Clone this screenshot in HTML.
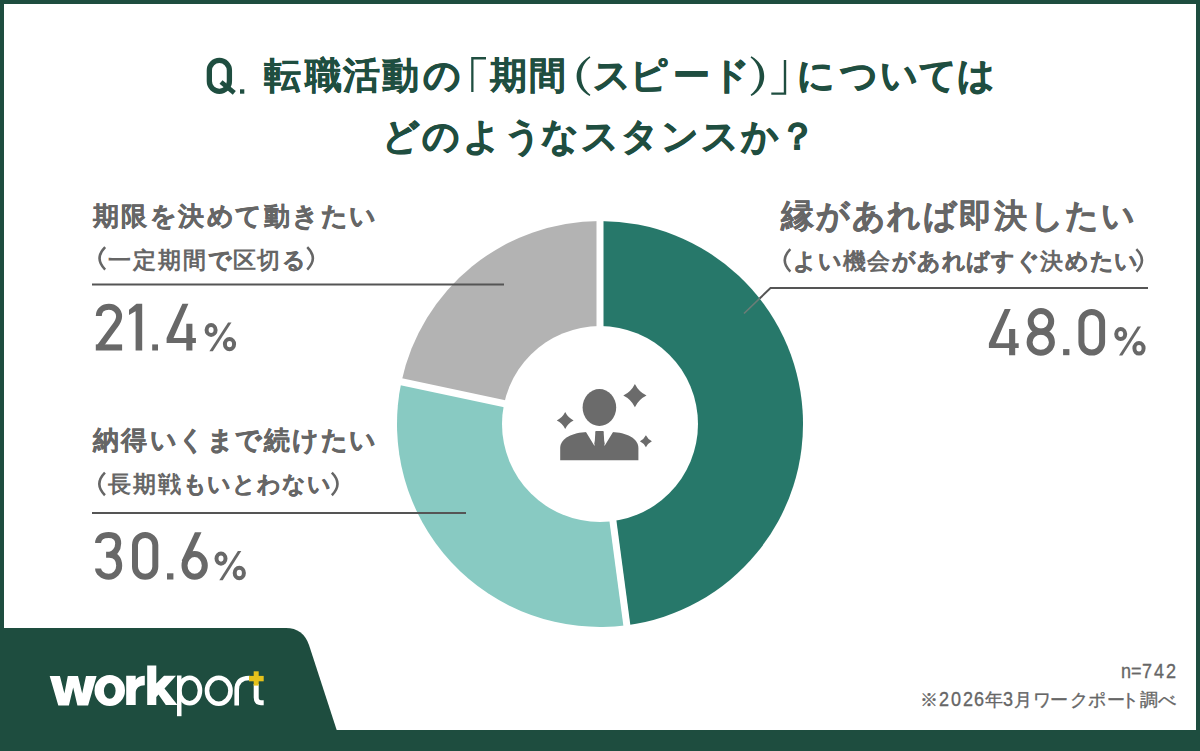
<!DOCTYPE html>
<html lang="ja">
<head>
<meta charset="utf-8">
<title>workport survey chart</title>
<style>
html,body{margin:0;padding:0;}
body{width:1200px;height:751px;position:relative;overflow:hidden;background:#1e4d3f;font-family:"Liberation Sans",sans-serif;}
.panel{position:absolute;left:4px;top:4px;width:1192px;height:726px;background:#fff;}
i{position:absolute;font-style:normal;white-space:pre;transform-origin:0 0;}
svg{position:absolute;left:0;top:0;}
</style>
</head>
<body>
<div class="panel"></div>

<svg width="1200" height="751" viewBox="0 0 1200 751">
<path fill="#1e4d3f" d="M0,628 L286,628 Q303,628 309,645 L337,731 L0,731 Z"/>
<path fill="#27786a" d="M600,424 L600.00,221.00 A203,203 0 0 1 626.85,625.22 Z"/>
<path fill="#88cac2" d="M600,424 L626.85,625.22 A203,203 0 0 1 401.44,381.79 Z"/>
<path fill="#b3b3b3" d="M600,424 L401.44,381.79 A203,203 0 0 1 600.00,221.00 Z"/>
<line x1="600" y1="424" x2="600.00" y2="216.00" stroke="#fff" stroke-width="7"/>
<line x1="600" y1="424" x2="627.51" y2="630.17" stroke="#fff" stroke-width="7"/>
<line x1="600" y1="424" x2="396.55" y2="380.75" stroke="#fff" stroke-width="7"/>
<circle cx="600" cy="424" r="98" fill="#fff"/>
<path d="M92,284.6 H504" stroke="#555555" stroke-width="2" fill="none"/>
<path d="M92,513 H466" stroke="#555555" stroke-width="2" fill="none"/>
<path d="M759.6,298.5 L770.5,288.1 H1148" stroke="#555555" stroke-width="2" fill="none"/>
<path d="M744,313.5 L759.6,298.5" stroke="#6b7d77" stroke-width="1.7" fill="none"/>
<ellipse cx="599.4" cy="407.5" rx="16.8" ry="18.4" fill="#6b6b6b"/>
<path fill="#6b6b6b" d="M560.2,460.3 V448 C560.2,438 573,432.5 587,431.9 H612 C626,432.5 638.4,438 638.4,448 V460.3 Z"/>
<path fill="#fff" d="M585.5,431.2 L595.4,431.2 L594.5,446 Z M613.5,431.2 L603.6,431.2 L604.5,446 Z"/>
<path fill="#6b6b6b" d="M595.3,431 H603.7 L602.8,434 L604.6,444 L599.5,447 L594.4,444 L596.2,434 Z"/>
<path fill="#6b6b6b" d="M634.9,384.0 Q638.728,391.77200000000005 646.5,395.6 Q638.728,399.428 634.9,407.20000000000005 Q631.072,399.428 623.3,395.6 Q631.072,391.77200000000005 634.9,384.0 Z"/>
<path fill="#6b6b6b" d="M565.2,412.1 Q567.9720000000001,417.728 573.6,420.5 Q567.9720000000001,423.272 565.2,428.9 Q562.428,423.272 556.8000000000001,420.5 Q562.428,417.728 565.2,412.1 Z"/>
<path fill="#6b6b6b" d="M645.9,435.3 Q647.88,439.32 651.9,441.3 Q647.88,443.28000000000003 645.9,447.3 Q643.92,443.28000000000003 639.9,441.3 Q643.92,439.32 645.9,435.3 Z"/>
<path fill="none" stroke="#666666" stroke-width="2.5" d="M105.15,247.05 Q93.93,258.35 105.15,269.65"/>
<path fill="none" stroke="#666666" stroke-width="2.5" d="M307.25,247.05 Q318.47,258.35 307.25,269.65"/>
<path fill="none" stroke="#666666" stroke-width="2.5" d="M104.95,472.65 Q93.73,483.95 104.95,495.25"/>
<path fill="none" stroke="#666666" stroke-width="2.5" d="M331.85,472.65 Q343.07,483.95 331.85,495.25"/>
<path fill="none" stroke="#666666" stroke-width="2.5" d="M790.35,249.05 Q779.13,260.35 790.35,271.65"/>
<path fill="none" stroke="#666666" stroke-width="2.5" d="M1136.35,249.05 Q1147.57,260.35 1136.35,271.65"/>
<rect x="209.35" y="60.35" width="20.05" height="31" rx="10" fill="none" stroke="#1f4e40" stroke-width="5.3"/>
<path d="M221,82 L234.3,92.8" stroke="#1f4e40" stroke-width="4.8" fill="none"/>
<rect x="240" y="89.3" width="4.3" height="4.4" fill="#1f4e40"/>
<path fill="#1f4e40" d="M471.2,57 H486 V59.4 H473.5 V92 H471.2 Z"/>
<path fill="#1f4e40" d="M786.2,60 V94.7 H771.3 V92.4 H783.8 V60 Z"/>
<path fill="#1f4e40" d="M589.6,56.3 C580.5,61.8 576.6,68.8 576.6,76.2 C576.6,83.6 580.5,90.6 589.6,96.1 L590.4,94.8 C583.6,89.4 581.2,83 581.2,76.2 C581.2,69.4 583.6,63 590.4,57.6 Z"/>
<path fill="#1f4e40" d="M751.4,56.3 C760.5,61.8 764.2,68.8 764.2,76.2 C764.2,83.6 760.5,90.6 751.4,96.1 L750.6,94.8 C757.4,89.4 759.6,83 759.6,76.2 C759.6,69.4 757.4,63 750.6,57.6 Z"/>
<path fill="none" stroke="#686868" stroke-width="6.0" d="M98.80,316.00 C98.80,310.30 103.30,306.80 108.95,306.80 C114.60,306.80 119.10,310.80 119.10,316.30 C119.10,320.30 117.10,323.30 114.60,326.30 L99.10,347.50"/><rect fill="#686868" x="95.80" y="344.40" width="26.30" height="6.1"/><path fill="#686868" d="M129.00,309.80 L136.50,303.80 H142.20 V350.50 H135.60 V311.30 L129.00,315.00 Z"/><rect fill="#686868" x="152.20" y="344.40" width="5.80" height="6.10"/><path fill="#686868" d="M182.40,303.80 H188.40 L173.50,338.10 H186.30 V323.80 H192.40 V338.10 H195.90 V342.90 H192.40 V350.50 H186.30 V342.90 H166.60 V338.10 Z"/><ellipse cx="211.10" cy="330.03" rx="4.50" ry="4.93" fill="none" stroke="#686868" stroke-width="4.0"/><ellipse cx="229.50" cy="344.12" rx="4.60" ry="5.17" fill="none" stroke="#686868" stroke-width="4.0"/><path fill="#686868" d="M209.40,351.30 H212.80 L231.50,322.60 H228.10 Z"/>
<path fill="none" stroke="#686868" stroke-width="6.0" d="M98.10,543.10 C98.10,537.90 102.10,534.90 108.65,534.90 C115.70,534.90 118.20,538.40 118.20,543.40 C118.20,548.84 114.20,554.84 109.20,554.84 H106.10 M109.20,554.84 C116.20,554.84 119.20,559.34 119.20,565.84 C119.20,571.80 114.70,576.80 108.65,576.80 C102.10,576.80 98.10,571.80 98.10,568.40"/><rect x="135.00" y="534.90" width="20.30" height="41.90" rx="10.15" fill="none" stroke="#686868" stroke-width="6.0"/><rect fill="#686868" x="167.00" y="573.30" width="6.40" height="6.20"/><ellipse cx="194.65" cy="565.45" rx="10.15" ry="11.35" fill="none" stroke="#686868" stroke-width="6.0"/><path fill="#686868" d="M194.90,532.30 H201.50 L187.30,562.80 L181.70,560.80 Z"/><ellipse cx="221.00" cy="558.62" rx="4.50" ry="5.03" fill="none" stroke="#686868" stroke-width="4.0"/><ellipse cx="239.30" cy="572.93" rx="4.60" ry="5.27" fill="none" stroke="#686868" stroke-width="4.0"/><path fill="#686868" d="M219.30,580.20 H222.70 L241.30,551.10 H237.90 Z"/>
<path fill="#686868" d="M1004.70,308.90 H1010.70 L995.80,343.20 H1009.10 V328.90 H1015.20 V343.20 H1018.70 V348.00 H1015.20 V355.20 H1009.10 V348.00 H988.90 V343.20 Z"/><ellipse cx="1040.95" cy="321.31" rx="10.25" ry="10.31" fill="none" stroke="#686868" stroke-width="6.0"/><ellipse cx="1040.75" cy="342.21" rx="11.15" ry="10.50" fill="none" stroke="#686868" stroke-width="6.0"/><rect fill="#686868" x="1063.10" y="349.10" width="6.30" height="6.10"/><rect x="1081.40" y="311.90" width="20.70" height="40.70" rx="10.35" fill="none" stroke="#686868" stroke-width="6.0"/><ellipse cx="1120.70" cy="334.10" rx="4.50" ry="5.00" fill="none" stroke="#686868" stroke-width="4.0"/><ellipse cx="1139.00" cy="348.35" rx="4.60" ry="5.25" fill="none" stroke="#686868" stroke-width="4.0"/><path fill="#686868" d="M1119.00,355.60 H1122.40 L1141.00,326.60 H1137.60 Z"/>
<path fill="#ffffff" d="M49.7,675.9 H59.9 L64.4,693.4 L67.8,675.9 H78 L82.2,693.4 L86,675.9 H96.6 L88.1,705.4 H77.4 L73.2,687.6 L68.9,705.4 H58.3 Z"/>
<path fill="#ffffff" fill-rule="evenodd" d="M94.5,690.45 A15.25,15.55 0 1 0 125,690.45 A15.25,15.55 0 1 0 94.5,690.45 Z M103.9,690.85 A5.85,7.95 0 1 0 115.6,690.85 A5.85,7.95 0 1 0 103.9,690.85 Z"/>
<path fill="#ffffff" d="M126.2,705 V675.8 H135.7 V680 C137.5,677 140.5,675.8 144.8,675.8 V685.2 C139,685.2 135.7,688 135.7,693 V705 Z"/>
<path fill="#ffffff" d="M147.2,665.4 H156.3 V683.5 L164,675.8 H176 L164.5,688.5 L177.5,705 H165.8 L158.5,694.5 L156.3,697 V705 H147.2 Z"/>
<rect fill="#ffffff" x="177" y="675.5" width="4.5" height="40.7"/>
<ellipse cx="189.65" cy="690.5" rx="10.35" ry="12.7" fill="none" stroke="#ffffff" stroke-width="4.6"/>
<ellipse cx="218.75" cy="690.75" rx="11.75" ry="12.95" fill="none" stroke="#ffffff" stroke-width="4.6"/>
<path fill="none" stroke="#ffffff" stroke-width="4.6" d="M236.7,705.5 V690 C236.7,682 241,678 249.5,678"/>
<path fill="none" stroke="#ffffff" stroke-width="5" d="M256.2,684 V697.5 Q256.2,702.7 261,702.7 H263.7"/>
<rect fill="#e5c21c" x="253.7" y="671.3" width="5" height="14.3"/>
<rect fill="#e5c21c" x="249" y="675.9" width="14.7" height="5.4"/>
</svg>
<i style="left:263.60px;top:57.40px;font-size:37px;line-height:37px;color:#1f4e40;font-weight:bold;-webkit-text-stroke:0.35px currentColor;">転</i>
<i style="left:304.90px;top:57.40px;font-size:37px;line-height:37px;color:#1f4e40;font-weight:bold;-webkit-text-stroke:0.35px currentColor;">職</i>
<i style="left:343.40px;top:57.40px;font-size:37px;line-height:37px;color:#1f4e40;font-weight:bold;-webkit-text-stroke:0.35px currentColor;">活</i>
<i style="left:381.90px;top:57.40px;font-size:37px;line-height:37px;color:#1f4e40;font-weight:bold;-webkit-text-stroke:0.35px currentColor;">動</i>
<i style="left:422.70px;top:57.40px;font-size:37px;line-height:37px;color:#1f4e40;font-weight:bold;-webkit-text-stroke:0.8px currentColor;">の</i>
<i style="left:489.80px;top:57.40px;font-size:37px;line-height:37px;color:#1f4e40;font-weight:bold;-webkit-text-stroke:0.35px currentColor;">期</i>
<i style="left:529.00px;top:57.40px;font-size:37px;line-height:37px;color:#1f4e40;font-weight:bold;-webkit-text-stroke:0.35px currentColor;">間</i>
<i style="left:592.80px;top:57.40px;font-size:37px;line-height:37px;color:#1f4e40;font-weight:bold;-webkit-text-stroke:0.8px currentColor;">ス</i>
<i style="left:629.50px;top:57.40px;font-size:37px;line-height:37px;color:#1f4e40;font-weight:bold;-webkit-text-stroke:0.8px currentColor;">ピ</i>
<i style="left:672.50px;top:57.40px;font-size:37px;line-height:37px;color:#1f4e40;font-weight:bold;-webkit-text-stroke:0.8px currentColor;">ー</i>
<i style="left:712.00px;top:57.40px;font-size:37px;line-height:37px;color:#1f4e40;font-weight:bold;-webkit-text-stroke:0.8px currentColor;">ド</i>
<i style="left:796.80px;top:57.40px;font-size:37px;line-height:37px;color:#1f4e40;font-weight:bold;-webkit-text-stroke:0.8px currentColor;">に</i>
<i style="left:840.10px;top:57.40px;font-size:37px;line-height:37px;color:#1f4e40;font-weight:bold;-webkit-text-stroke:0.8px currentColor;">つ</i>
<i style="left:879.70px;top:57.40px;font-size:37px;line-height:37px;color:#1f4e40;font-weight:bold;-webkit-text-stroke:0.8px currentColor;">い</i>
<i style="left:918.50px;top:57.40px;font-size:37px;line-height:37px;color:#1f4e40;font-weight:bold;-webkit-text-stroke:0.8px currentColor;">て</i>
<i style="left:957.20px;top:57.40px;font-size:37px;line-height:37px;color:#1f4e40;font-weight:bold;-webkit-text-stroke:0.8px currentColor;">は</i>
<i style="left:382.30px;top:117.70px;font-size:37px;line-height:37px;color:#1f4e40;font-weight:bold;-webkit-text-stroke:0.8px currentColor;">ど</i>
<i style="left:421.50px;top:117.70px;font-size:37px;line-height:37px;color:#1f4e40;font-weight:bold;-webkit-text-stroke:0.8px currentColor;">の</i>
<i style="left:462.50px;top:117.70px;font-size:37px;line-height:37px;color:#1f4e40;font-weight:bold;-webkit-text-stroke:0.8px currentColor;">よ</i>
<i style="left:503.70px;top:117.70px;font-size:37px;line-height:37px;color:#1f4e40;font-weight:bold;-webkit-text-stroke:0.8px currentColor;">う</i>
<i style="left:541.20px;top:117.70px;font-size:37px;line-height:37px;color:#1f4e40;font-weight:bold;-webkit-text-stroke:0.8px currentColor;">な</i>
<i style="left:581.10px;top:117.70px;font-size:37px;line-height:37px;color:#1f4e40;font-weight:bold;-webkit-text-stroke:0.8px currentColor;">ス</i>
<i style="left:620.70px;top:117.70px;font-size:37px;line-height:37px;color:#1f4e40;font-weight:bold;-webkit-text-stroke:0.8px currentColor;">タ</i>
<i style="left:661.20px;top:117.70px;font-size:37px;line-height:37px;color:#1f4e40;font-weight:bold;-webkit-text-stroke:0.8px currentColor;">ン</i>
<i style="left:701.40px;top:117.70px;font-size:37px;line-height:37px;color:#1f4e40;font-weight:bold;-webkit-text-stroke:0.8px currentColor;">ス</i>
<i style="left:740.60px;top:117.70px;font-size:37px;line-height:37px;color:#1f4e40;font-weight:bold;-webkit-text-stroke:0.8px currentColor;">か</i>
<i style="left:778.70px;top:117.70px;font-size:37px;line-height:37px;color:#1f4e40;font-weight:bold;-webkit-text-stroke:0.8px currentColor;">？</i>
<i style="left:93.00px;top:202.50px;font-size:26px;line-height:26px;color:#666666;font-weight:bold;-webkit-text-stroke:0.2px currentColor;">期</i>
<i style="left:121.45px;top:202.50px;font-size:26px;line-height:26px;color:#666666;font-weight:bold;-webkit-text-stroke:0.2px currentColor;">限</i>
<i style="left:149.90px;top:202.50px;font-size:26px;line-height:26px;color:#666666;font-weight:bold;-webkit-text-stroke:0.55px currentColor;">を</i>
<i style="left:178.35px;top:202.50px;font-size:26px;line-height:26px;color:#666666;font-weight:bold;-webkit-text-stroke:0.2px currentColor;">決</i>
<i style="left:206.80px;top:202.50px;font-size:26px;line-height:26px;color:#666666;font-weight:bold;-webkit-text-stroke:0.55px currentColor;">め</i>
<i style="left:235.25px;top:202.50px;font-size:26px;line-height:26px;color:#666666;font-weight:bold;-webkit-text-stroke:0.55px currentColor;">て</i>
<i style="left:263.70px;top:202.50px;font-size:26px;line-height:26px;color:#666666;font-weight:bold;-webkit-text-stroke:0.2px currentColor;">動</i>
<i style="left:292.15px;top:202.50px;font-size:26px;line-height:26px;color:#666666;font-weight:bold;-webkit-text-stroke:0.55px currentColor;">き</i>
<i style="left:320.60px;top:202.50px;font-size:26px;line-height:26px;color:#666666;font-weight:bold;-webkit-text-stroke:0.55px currentColor;">た</i>
<i style="left:349.05px;top:202.50px;font-size:26px;line-height:26px;color:#666666;font-weight:bold;-webkit-text-stroke:0.55px currentColor;">い</i>
<i style="left:108.00px;top:248.70px;font-size:23px;line-height:23px;color:#666666;font-weight:bold;">一</i>
<i style="left:132.90px;top:248.70px;font-size:23px;line-height:23px;color:#666666;font-weight:bold;">定</i>
<i style="left:157.80px;top:248.70px;font-size:23px;line-height:23px;color:#666666;font-weight:bold;">期</i>
<i style="left:182.70px;top:248.70px;font-size:23px;line-height:23px;color:#666666;font-weight:bold;">間</i>
<i style="left:207.60px;top:248.70px;font-size:23px;line-height:23px;color:#666666;font-weight:bold;-webkit-text-stroke:0.35px currentColor;">で</i>
<i style="left:232.50px;top:248.70px;font-size:23px;line-height:23px;color:#666666;font-weight:bold;">区</i>
<i style="left:257.40px;top:248.70px;font-size:23px;line-height:23px;color:#666666;font-weight:bold;">切</i>
<i style="left:282.30px;top:248.70px;font-size:23px;line-height:23px;color:#666666;font-weight:bold;-webkit-text-stroke:0.35px currentColor;">る</i>
<i style="left:93.00px;top:426.50px;font-size:26px;line-height:26px;color:#666666;font-weight:bold;-webkit-text-stroke:0.2px currentColor;">納</i>
<i style="left:121.45px;top:426.50px;font-size:26px;line-height:26px;color:#666666;font-weight:bold;-webkit-text-stroke:0.2px currentColor;">得</i>
<i style="left:149.90px;top:426.50px;font-size:26px;line-height:26px;color:#666666;font-weight:bold;-webkit-text-stroke:0.55px currentColor;">い</i>
<i style="left:178.35px;top:426.50px;font-size:26px;line-height:26px;color:#666666;font-weight:bold;-webkit-text-stroke:0.55px currentColor;">く</i>
<i style="left:206.80px;top:426.50px;font-size:26px;line-height:26px;color:#666666;font-weight:bold;-webkit-text-stroke:0.55px currentColor;">ま</i>
<i style="left:235.25px;top:426.50px;font-size:26px;line-height:26px;color:#666666;font-weight:bold;-webkit-text-stroke:0.55px currentColor;">で</i>
<i style="left:263.70px;top:426.50px;font-size:26px;line-height:26px;color:#666666;font-weight:bold;-webkit-text-stroke:0.2px currentColor;">続</i>
<i style="left:292.15px;top:426.50px;font-size:26px;line-height:26px;color:#666666;font-weight:bold;-webkit-text-stroke:0.55px currentColor;">け</i>
<i style="left:320.60px;top:426.50px;font-size:26px;line-height:26px;color:#666666;font-weight:bold;-webkit-text-stroke:0.55px currentColor;">た</i>
<i style="left:349.05px;top:426.50px;font-size:26px;line-height:26px;color:#666666;font-weight:bold;-webkit-text-stroke:0.55px currentColor;">い</i>
<i style="left:107.80px;top:473.30px;font-size:23px;line-height:23px;color:#666666;font-weight:bold;">長</i>
<i style="left:132.70px;top:473.30px;font-size:23px;line-height:23px;color:#666666;font-weight:bold;">期</i>
<i style="left:157.60px;top:473.30px;font-size:23px;line-height:23px;color:#666666;font-weight:bold;">戦</i>
<i style="left:182.50px;top:473.30px;font-size:23px;line-height:23px;color:#666666;font-weight:bold;-webkit-text-stroke:0.35px currentColor;">も</i>
<i style="left:207.40px;top:473.30px;font-size:23px;line-height:23px;color:#666666;font-weight:bold;-webkit-text-stroke:0.35px currentColor;">い</i>
<i style="left:232.30px;top:473.30px;font-size:23px;line-height:23px;color:#666666;font-weight:bold;-webkit-text-stroke:0.35px currentColor;">と</i>
<i style="left:257.20px;top:473.30px;font-size:23px;line-height:23px;color:#666666;font-weight:bold;-webkit-text-stroke:0.35px currentColor;">わ</i>
<i style="left:282.10px;top:473.30px;font-size:23px;line-height:23px;color:#666666;font-weight:bold;-webkit-text-stroke:0.35px currentColor;">な</i>
<i style="left:307.00px;top:473.30px;font-size:23px;line-height:23px;color:#666666;font-weight:bold;-webkit-text-stroke:0.35px currentColor;">い</i>
<i style="left:780.70px;top:199.30px;font-size:33px;line-height:33px;color:#666666;font-weight:bold;-webkit-text-stroke:0.2px currentColor;">縁</i>
<i style="left:816.27px;top:199.30px;font-size:33px;line-height:33px;color:#666666;font-weight:bold;-webkit-text-stroke:0.55px currentColor;">が</i>
<i style="left:851.84px;top:199.30px;font-size:33px;line-height:33px;color:#666666;font-weight:bold;-webkit-text-stroke:0.55px currentColor;">あ</i>
<i style="left:887.41px;top:199.30px;font-size:33px;line-height:33px;color:#666666;font-weight:bold;-webkit-text-stroke:0.55px currentColor;">れ</i>
<i style="left:922.98px;top:199.30px;font-size:33px;line-height:33px;color:#666666;font-weight:bold;-webkit-text-stroke:0.55px currentColor;">ば</i>
<i style="left:958.55px;top:199.30px;font-size:33px;line-height:33px;color:#666666;font-weight:bold;-webkit-text-stroke:0.2px currentColor;">即</i>
<i style="left:994.12px;top:199.30px;font-size:33px;line-height:33px;color:#666666;font-weight:bold;-webkit-text-stroke:0.2px currentColor;">決</i>
<i style="left:1029.69px;top:199.30px;font-size:33px;line-height:33px;color:#666666;font-weight:bold;-webkit-text-stroke:0.55px currentColor;">し</i>
<i style="left:1065.26px;top:199.30px;font-size:33px;line-height:33px;color:#666666;font-weight:bold;-webkit-text-stroke:0.55px currentColor;">た</i>
<i style="left:1100.83px;top:199.30px;font-size:33px;line-height:33px;color:#666666;font-weight:bold;-webkit-text-stroke:0.55px currentColor;">い</i>
<i style="left:793.30px;top:249.70px;font-size:23px;line-height:23px;color:#666666;font-weight:bold;-webkit-text-stroke:0.35px currentColor;">よ</i>
<i style="left:818.00px;top:249.70px;font-size:23px;line-height:23px;color:#666666;font-weight:bold;-webkit-text-stroke:0.35px currentColor;">い</i>
<i style="left:842.70px;top:249.70px;font-size:23px;line-height:23px;color:#666666;font-weight:bold;">機</i>
<i style="left:867.40px;top:249.70px;font-size:23px;line-height:23px;color:#666666;font-weight:bold;">会</i>
<i style="left:892.10px;top:249.70px;font-size:23px;line-height:23px;color:#666666;font-weight:bold;-webkit-text-stroke:0.35px currentColor;">が</i>
<i style="left:916.80px;top:249.70px;font-size:23px;line-height:23px;color:#666666;font-weight:bold;-webkit-text-stroke:0.35px currentColor;">あ</i>
<i style="left:941.50px;top:249.70px;font-size:23px;line-height:23px;color:#666666;font-weight:bold;-webkit-text-stroke:0.35px currentColor;">れ</i>
<i style="left:966.20px;top:249.70px;font-size:23px;line-height:23px;color:#666666;font-weight:bold;-webkit-text-stroke:0.35px currentColor;">ば</i>
<i style="left:990.90px;top:249.70px;font-size:23px;line-height:23px;color:#666666;font-weight:bold;-webkit-text-stroke:0.35px currentColor;">す</i>
<i style="left:1015.60px;top:249.70px;font-size:23px;line-height:23px;color:#666666;font-weight:bold;-webkit-text-stroke:0.35px currentColor;">ぐ</i>
<i style="left:1040.30px;top:249.70px;font-size:23px;line-height:23px;color:#666666;font-weight:bold;">決</i>
<i style="left:1065.00px;top:249.70px;font-size:23px;line-height:23px;color:#666666;font-weight:bold;-webkit-text-stroke:0.35px currentColor;">め</i>
<i style="left:1089.70px;top:249.70px;font-size:23px;line-height:23px;color:#666666;font-weight:bold;-webkit-text-stroke:0.35px currentColor;">た</i>
<i style="left:1114.40px;top:249.70px;font-size:23px;line-height:23px;color:#666666;font-weight:bold;-webkit-text-stroke:0.35px currentColor;">い</i>
<i style="left:920.00px;top:691.80px;font-size:17.5px;line-height:17.5px;color:#666666;-webkit-text-stroke:0.35px currentColor;">※</i>
<i style="left:984.85px;top:691.80px;font-size:17.5px;line-height:17.5px;color:#666666;-webkit-text-stroke:0.35px currentColor;">年</i>
<i style="left:1013.95px;top:691.80px;font-size:17.5px;line-height:17.5px;color:#666666;-webkit-text-stroke:0.35px currentColor;">月</i>
<i style="left:1032.70px;top:691.80px;font-size:17.5px;line-height:17.5px;color:#666666;-webkit-text-stroke:0.35px currentColor;">ワ</i>
<i style="left:1050.20px;top:691.80px;font-size:17.5px;line-height:17.5px;color:#666666;-webkit-text-stroke:0.35px currentColor;">ー</i>
<i style="left:1070.00px;top:691.80px;font-size:17.5px;line-height:17.5px;color:#666666;-webkit-text-stroke:0.35px currentColor;">ク</i>
<i style="left:1088.00px;top:691.80px;font-size:17.5px;line-height:17.5px;color:#666666;-webkit-text-stroke:0.35px currentColor;">ポ</i>
<i style="left:1106.50px;top:691.80px;font-size:17.5px;line-height:17.5px;color:#666666;-webkit-text-stroke:0.35px currentColor;">ー</i>
<i style="left:1121.00px;top:691.80px;font-size:17.5px;line-height:17.5px;color:#666666;-webkit-text-stroke:0.35px currentColor;">ト</i>
<i style="left:1139.60px;top:691.80px;font-size:17.5px;line-height:17.5px;color:#666666;-webkit-text-stroke:0.35px currentColor;">調</i>
<i style="left:1157.65px;top:691.80px;font-size:17.5px;line-height:17.5px;color:#666666;-webkit-text-stroke:0.35px currentColor;">べ</i>
<i style="left:1120.50px;top:661.30px;font-size:20px;line-height:20px;color:#666666;transform:scaleX(0.9);-webkit-text-stroke:0.35px currentColor;">n</i>
<i style="left:1131.10px;top:661.30px;font-size:20px;line-height:20px;color:#666666;transform:scaleX(0.9);-webkit-text-stroke:0.35px currentColor;">=</i>
<i style="left:1141.75px;top:661.30px;font-size:20px;line-height:20px;color:#666666;transform:scaleX(0.9);-webkit-text-stroke:0.35px currentColor;">7</i>
<i style="left:1153.80px;top:661.30px;font-size:20px;line-height:20px;color:#666666;transform:scaleX(0.9);-webkit-text-stroke:0.35px currentColor;">4</i>
<i style="left:1165.85px;top:661.30px;font-size:20px;line-height:20px;color:#666666;transform:scaleX(0.9);-webkit-text-stroke:0.35px currentColor;">2</i>
<i style="left:939.35px;top:689.10px;font-size:20px;line-height:20px;color:#666666;transform:scaleX(0.9);-webkit-text-stroke:0.35px currentColor;">2</i>
<i style="left:950.95px;top:689.10px;font-size:20px;line-height:20px;color:#666666;transform:scaleX(0.9);-webkit-text-stroke:0.35px currentColor;">0</i>
<i style="left:962.70px;top:689.10px;font-size:20px;line-height:20px;color:#666666;transform:scaleX(0.9);-webkit-text-stroke:0.35px currentColor;">2</i>
<i style="left:973.65px;top:689.10px;font-size:20px;line-height:20px;color:#666666;transform:scaleX(0.9);-webkit-text-stroke:0.35px currentColor;">6</i>
<i style="left:1003.05px;top:689.10px;font-size:20px;line-height:20px;color:#666666;transform:scaleX(0.9);-webkit-text-stroke:0.35px currentColor;">3</i>
</body>
</html>
